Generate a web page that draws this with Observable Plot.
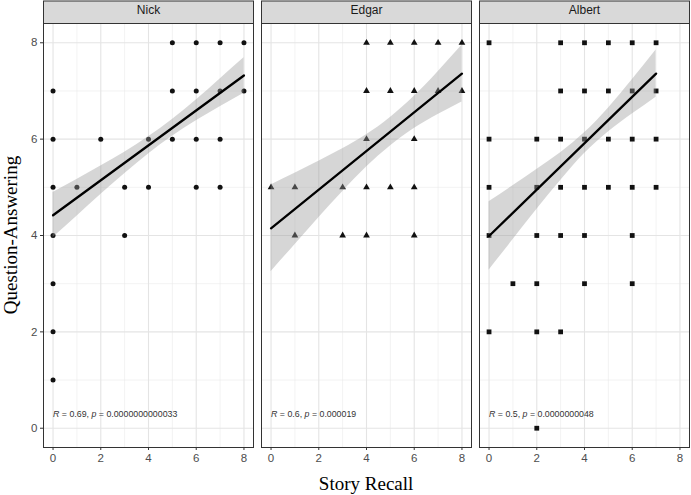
<!DOCTYPE html>
<html><head><meta charset="utf-8">
<script src="https://cdn.jsdelivr.net/npm/d3@7"></script>
<script src="https://cdn.jsdelivr.net/npm/@observablehq/plot@0.6"></script>
<style>html,body{margin:0;padding:0;background:#fff} svg{display:block}</style>
</head><body><div id="chart"></div>
<script>
// ---- data ----
const panels = ["Nick", "Edgar", "Albert"];
const xTicks = [0, 2, 4, 6, 8];
const yTicks = [0, 2, 4, 6, 8];

const nickX = [0,0,0,0,0,0,0,1,2,3,3,4,4,5,5,5,6,6,6,6,7,7,7,7,8,8];
const nickY = [7,6,5,4,3,2,1,5,6,5,4,6,5,8,7,6,8,7,6,5,8,7,6,5,8,7];
const edgarX = [0,1,1,3,3,4,4,4,4,4,5,5,5,6,6,6,6,6,7,7,8,8];
const edgarY = [5,5,4,5,4,8,7,6,5,4,8,7,5,8,7,6,5,4,8,7,8,7];
const albertX = [0,0,0,0,0,1,2,2,2,2,2,2,3,3,3,3,3,3,4,4,4,4,4,4,5,5,5,5,6,6,6,6,6,6,7,7,7,7];
const albertY = [8,6,5,4,2,3,6,5,4,3,2,0,8,7,6,5,4,2,8,7,6,5,4,3,8,7,6,5,8,7,6,5,4,3,8,7,6,5];

// regression fit lines (end points)
const nickFitX = [0, 8],   nickFitY = [4.42, 7.32];
const edgarFitX = [0, 8],  edgarFitY = [4.15, 7.36];
const albertFitX = [0, 7], albertFitY = [3.99, 7.36];

// confidence band
const nickBandX = [0,1,2,3,4,5,6,7,8];
const nickLo = [3.96,4.40,4.85,5.28,5.69,6.06,6.38,6.67,6.95];
const nickHi = [4.89,5.16,5.44,5.73,6.05,6.41,6.81,7.25,7.69];
const edgarBandX = [0,1,2,3,4,5,6,7,8];
const edgarLo = [3.25,3.81,4.37,4.91,5.42,5.86,6.22,6.51,6.77];
const edgarHi = [5.05,5.29,5.54,5.80,6.09,6.45,6.89,7.40,7.95];
const albertBandX = [0,1,2,3,4,5,6,7];
const albertLo = [3.28,3.91,4.54,5.14,5.70,6.15,6.52,6.87];
const albertHi = [4.70,5.03,5.37,5.72,6.13,6.64,7.23,7.85];

const corLabels = ["R = 0.69, p = 0.0000000000033", "R = 0.6, p = 0.000019", "R = 0.5, p = 0.0000000048"];
const corX = 0, corY = 0.3;

// ---- tables ----
const pts = (panel, xs, ys) => xs.map((x, i) => ({panel, x, y: ys[i]}));
const nickPts = pts("Nick", nickX, nickY);
const edgarPts = pts("Edgar", edgarX, edgarY);
const albertPts = pts("Albert", albertX, albertY);
const band = (panel, xs, lo, hi) => xs.map((x, i) => ({panel, x, lo: lo[i], hi: hi[i]}));
const bands = [
  ...band("Nick", nickBandX, nickLo, nickHi),
  ...band("Edgar", edgarBandX, edgarLo, edgarHi),
  ...band("Albert", albertBandX, albertLo, albertHi)
];
const fits = [
  ...pts("Nick", nickFitX, nickFitY),
  ...pts("Edgar", edgarFitX, edgarFitY),
  ...pts("Albert", albertFitX, albertFitY)
];
const cors = panels.map((p, i) => ({panel: p, x: corX, y: corY, label: corLabels[i]}));

const W = 691, H = 495, MT = 23, MB = 48, ML = 41.7, MR = 0.5;
const gap = 8;
const bw = (W - ML - MR - 2 * gap) / 3;
const pad = gap / (bw + gap);

const chart = Plot.plot({
  width: W, height: H,
  marginTop: MT, marginBottom: MB, marginLeft: ML, marginRight: MR,
  style: {fontFamily: "'Liberation Sans', Arial, sans-serif", background: "#fff", overflow: "visible"},
  fx: {domain: panels, paddingInner: pad, paddingOuter: 0, axis: null, label: null},
  x: {domain: [-0.4, 8.4], label: null},
  y: {domain: [-0.4, 8.4], label: null},
  marks: [
    Plot.frame({fill: "#ffffff"}),
    Plot.gridX({ticks: [1,3,5,7], stroke: "#ebebeb", strokeOpacity: 1, strokeWidth: 0.6}),
    Plot.gridY({ticks: [1,3,5,7], stroke: "#ebebeb", strokeOpacity: 1, strokeWidth: 0.6}),
    Plot.gridX({ticks: xTicks, stroke: "#e4e4e4", strokeOpacity: 1, strokeWidth: 1.1}),
    Plot.gridY({ticks: yTicks, stroke: "#e4e4e4", strokeOpacity: 1, strokeWidth: 1.1}),
    Plot.dot(nickPts, {x: "x", y: "y", fx: "panel", symbol: "circle", r: 2.5, fill: "#111", stroke: null}),
    Plot.dot(edgarPts, {x: "x", y: "y", fx: "panel", symbol: "triangle", r: 2.5, fill: "#111", stroke: null}),
    Plot.dot(albertPts, {x: "x", y: "y", fx: "panel", symbol: "square", r: 2.7, fill: "#111", stroke: null}),
    Plot.areaY(bands, {x: "x", y1: "lo", y2: "hi", fx: "panel", fill: "#999999", fillOpacity: 0.4, curve: "natural"}),
    Plot.line(fits, {x: "x", y: "y", fx: "panel", stroke: "#000", strokeWidth: 2.3}),
    Plot.text(cors, {x: "x", y: "y", fx: "panel", text: "label", textAnchor: "start", fontSize: 8.8, fill: "#333"}),
    Plot.frame({stroke: "#333", strokeWidth: 1}),
    Plot.frame({fill: "#d9d9d9", stroke: "#333", strokeWidth: 1, insetTop: -MT + 0.5, insetBottom: H - MT - MB}),
    Plot.text(panels, {fx: d => d, text: d => d, frameAnchor: "top", lineAnchor: "middle", dy: -13, fontSize: 12, fill: "#1a1a1a"}),
    Plot.axisX({ticks: xTicks, tickSize: 3, tickPadding: 3, fontSize: 11.5, color: "#4d4d4d", stroke: "#333", label: null}),
    Plot.axisY({ticks: yTicks, tickSize: 3, tickPadding: 3, fontSize: 11.5, color: "#4d4d4d", stroke: "#333", label: null})
  ]
});

document.getElementById("chart").appendChild(chart);

const svg = d3.select(chart);
// italic R and p in correlation labels
svg.selectAll("text").each(function() {
  const t = this.textContent;
  const m = /^R( = [^,]*, )p( = .*)$/.exec(t);
  if (!m || this.childElementCount > 0) return;
  const el = d3.select(this);
  el.text(null);
  el.append("tspan").attr("font-style", "italic").text("R");
  el.append("tspan").text(m[1]);
  el.append("tspan").attr("font-style", "italic").text("p");
  el.append("tspan").text(m[2]);
});
// axis titles
svg.append("text")
  .attr("x", ML + (W - ML - MR) / 2).attr("y", H - 5)
  .attr("text-anchor", "middle")
  .attr("font-family", "'Liberation Serif', 'Times New Roman', serif")
  .attr("font-size", 19).attr("fill", "#000")
  .text("Story Recall");
svg.append("text")
  .attr("transform", `translate(17,${MT + (H - MT - MB) / 2}) rotate(-90)`)
  .attr("text-anchor", "middle")
  .attr("font-family", "'Liberation Serif', 'Times New Roman', serif")
  .attr("font-size", 19).attr("fill", "#000")
  .text("Question-Answering");
</script>
</body></html>
